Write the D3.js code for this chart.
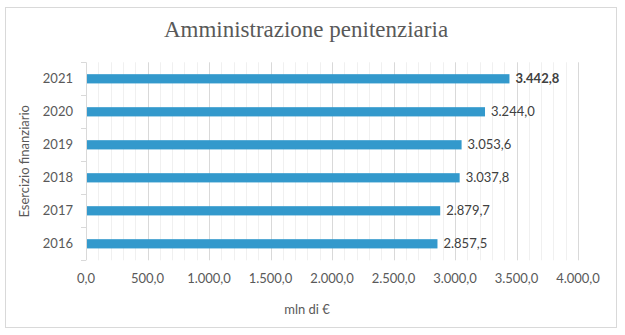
<!DOCTYPE html>
<html><head><meta charset="utf-8">
<script src="https://cdn.jsdelivr.net/npm/d3@7/dist/d3.min.js"></script>
<style>body{margin:0;background:#fff}</style>
</head><body>
<svg id="c" width="625" height="335"></svg>
<script>
const years = ["2016","2017","2018","2019","2020","2021"];
const values = [2857.5, 2879.7, 3037.8, 3053.6, 3244.0, 3442.8];
const xTicks = [0,500,1000,1500,2000,2500,3000,3500,4000];
const title = "Amministrazione penitenziaria";
const xTitle = "mln di €";
const yTitle = "Esercizio finanziario";

const svg = d3.select("#c");
const fmt = d3.formatLocale({decimal:",", thousands:".", grouping:[3], currency:["","€"]}).format(",.1f");
const L=86, R=578, T=62.3, B=260.3;
const x = d3.scaleLinear().domain([0,4000]).range([L,R]);
const y = d3.scaleBand().domain(years.slice().reverse()).range([T,B]).paddingInner(0.72).paddingOuter(0.36);
const band = d3.scaleBand().domain(years.slice().reverse()).range([T,B]);

svg.append("rect").attr("x",5.5).attr("y",7.5).attr("width",611).attr("height",320)
  .attr("fill","#fff").attr("stroke","#d9d9d9");

// minor grid
const minor = d3.range(100,4001,100).filter(v=>v%500!==0);
svg.append("g").selectAll("line").data(minor).join("line")
  .attr("x1",d=>Math.round(x(d))+0.5).attr("x2",d=>Math.round(x(d))+0.5).attr("y1",T).attr("y2",B)
  .attr("stroke","#f0f0f0");
svg.append("g").selectAll("line").data(xTicks.slice(1)).join("line")
  .attr("x1",d=>Math.round(x(d))+0.5).attr("x2",d=>Math.round(x(d))+0.5).attr("y1",T).attr("y2",B)
  .attr("stroke","#d9d9d9");

// y axis line + ticks
svg.append("line").attr("x1",L+0.5).attr("x2",L+0.5).attr("y1",T).attr("y2",B).attr("stroke","#d9d9d9");
const tk = years.map(d=>band(d)).concat([B]);
svg.append("g").selectAll("line").data(tk).join("line")
  .attr("x1",L-5).attr("x2",L).attr("y1",d=>Math.round(d)+0.5).attr("y2",d=>Math.round(d)+0.5).attr("stroke","#d9d9d9");

// bars
svg.append("g").selectAll("rect").data(years).join("rect")
  .attr("x",x(0)+1).attr("y",d=>y(d)).attr("height",y.bandwidth())
  .attr("width",(d,i)=>x(values[i])-x(0)-1).attr("fill","#3399cc");

const font = "Lato, 'Open Sans', sans-serif";
// value labels
svg.append("g").selectAll("text").data(years).join("text")
  .attr("x",(d,i)=>x(values[i])+6).attr("y",d=>band(d)+band.bandwidth()/2+4.5)
  .attr("font-family",font).attr("font-size",13).attr("fill","#404040")
  .attr("font-weight",(d,i)=>i===values.length-1?"bold":"normal")
  .text((d,i)=>fmt(values[i]));

// y labels
svg.append("g").selectAll("text").data(years).join("text")
  .attr("x",73).attr("y",d=>band(d)+band.bandwidth()/2+4.5).attr("text-anchor","end")
  .attr("font-family",font).attr("font-size",13).attr("fill","#595959").text(d=>d);

// x labels
svg.append("g").selectAll("text").data(xTicks).join("text")
  .attr("x",d=>x(d)).attr("y",283).attr("text-anchor","middle")
  .attr("font-family",font).attr("font-size",13).attr("fill","#595959").text(d=>fmt(d));

svg.append("text").attr("x",307).attr("y",314).attr("text-anchor","middle")
  .attr("font-family",font).attr("font-size",13).attr("fill","#595959").text(xTitle);
svg.append("text").attr("transform",`translate(29,${(T+B)/2}) rotate(-90)`).attr("text-anchor","middle")
  .attr("font-family",font).attr("font-size",13).attr("fill","#595959").text(yTitle);

svg.append("text").attr("x",306).attr("y",37).attr("text-anchor","middle")
  .attr("font-family","'Liberation Serif', 'DejaVu Serif', serif").attr("font-size",23).attr("fill","#595959").text(title);
</script>
</body></html>
